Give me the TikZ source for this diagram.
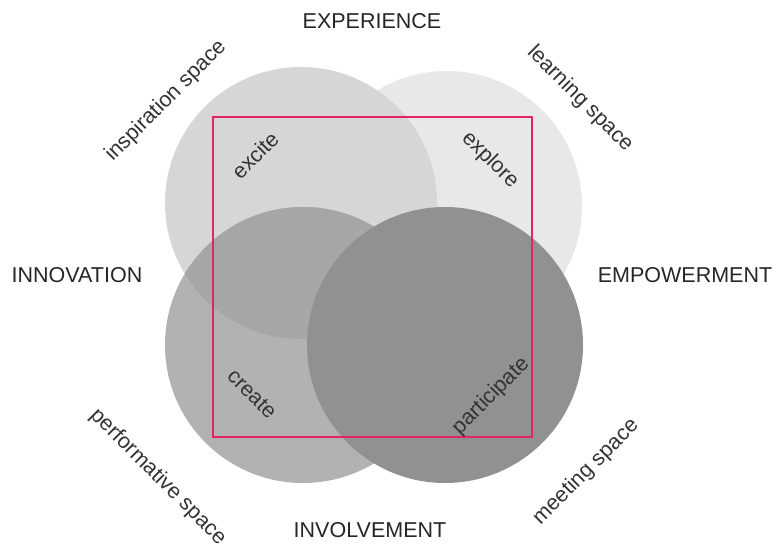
\documentclass[tikz,border=0pt]{standalone}
\usepackage{fontspec}
\setmainfont{Liberation Sans}
\definecolor{frame}{RGB}{226,38,96}

\begin{document}
\begin{tikzpicture}[x=1pt, y=-1pt,
    dimension/.style={font=\fontsize{21.5}{24}\selectfont, text=black!85},
    space/.style={font=\fontsize{21.5}{24}\selectfont, text=black!80}]
        \useasboundingbox (0,0) rectangle (775,551);

        % Four overlapping spaces
        \fill[black!9] (447,206) circle (135pt);
        \fill[black!16] (301,203) circle (136pt);
        \fill[black!30] (303,345) circle (138pt);
        \begin{scope}
            \clip (301,203) circle (136pt);
            \fill[black!35] (303,345) circle (138pt);
        \end{scope}
        \fill[black!43] (445,345) circle (138pt);

        % Frame
        \draw[frame, line width=2pt] (213,117) rectangle (532,437);

        % Dimensions
        \node[dimension] (experience) at (372,21) {EXPERIENCE};
        \node[dimension] (involvement) at (370,530) {INVOLVEMENT};
        \node[dimension] (innovation) at (77,275) {INNOVATION};
        \node[dimension] (empowerment) at (685,275) {EMPOWERMENT};

        % Spaces
        \node[space, rotate=45] (inspiration) at (166,101) {inspiration space};
        \node[space, rotate=-45] (learning) at (580,99) {learning space};
        \node[space, rotate=-45] (performative) at (158,477) {performative space};
        \node[space, rotate=45] (meeting) at (586,472) {meeting space};

        % Activities
        \node[space, rotate=45] (excite) at (255,155) {excite};
        \node[space, rotate=-45] (explore) at (490,160) {explore};
        \node[space, rotate=-45] (create) at (252,394) {create};
        \node[space, rotate=45] (participate) at (491,396) {participate};

    \end{tikzpicture}
\end{document}
